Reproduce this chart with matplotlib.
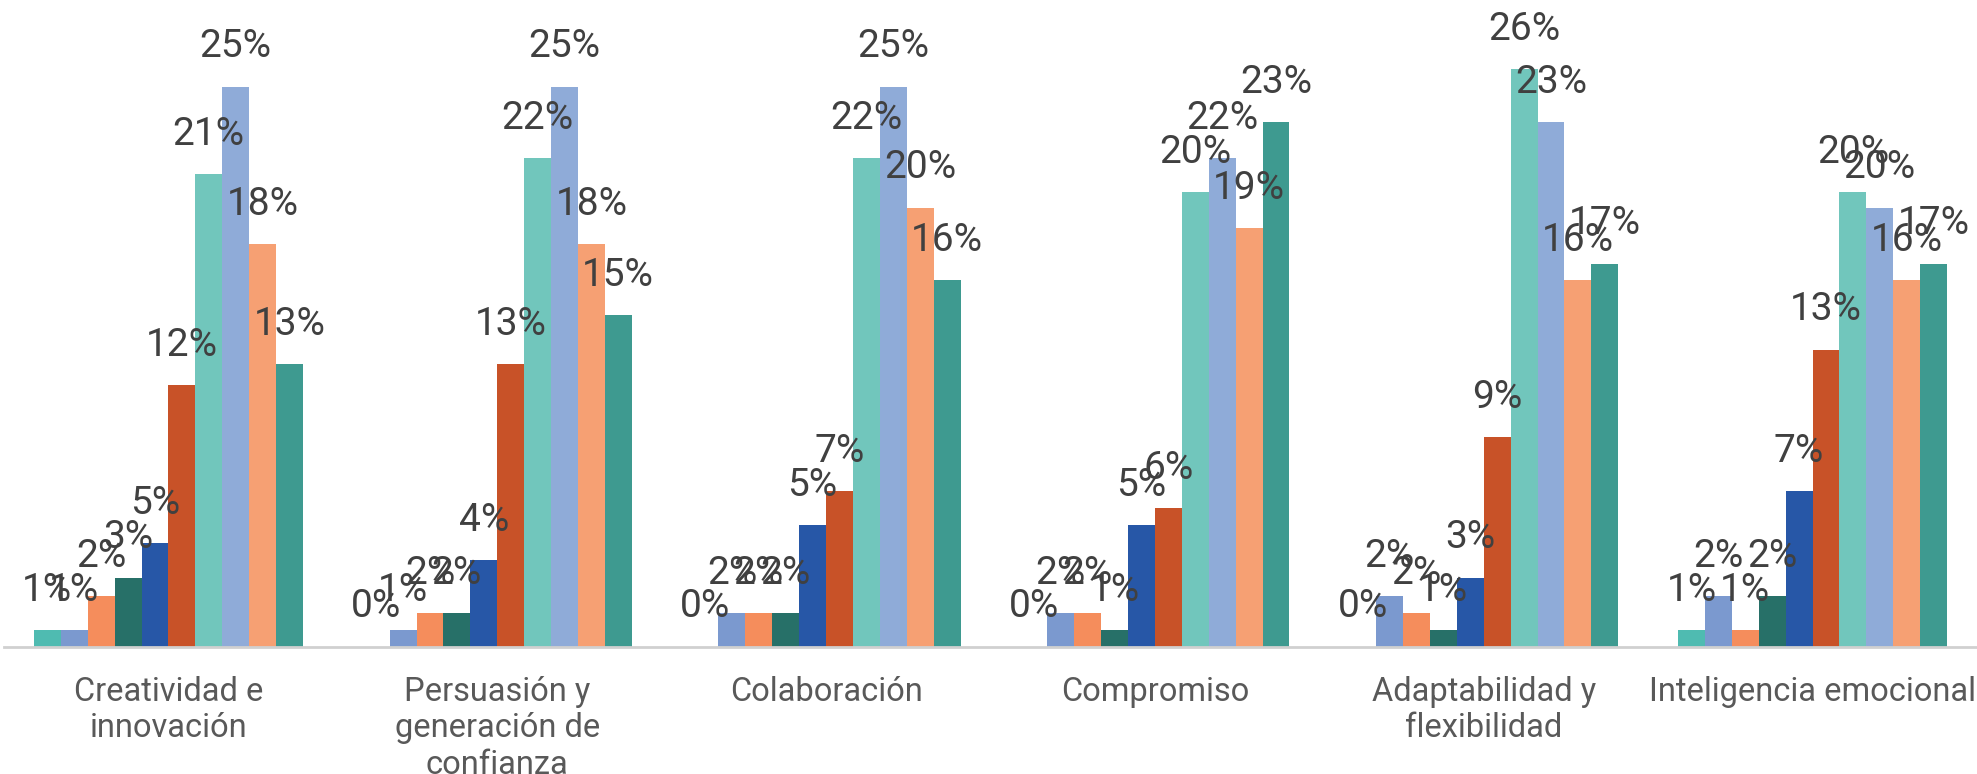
import matplotlib.pyplot as plt
import numpy as np

categories = ["Creatividad e\ninnovación", "Persuasión y\ngeneración de\nconfianza",
              "Colaboración", "Compromiso", "Adaptabilidad y\nflexibilidad",
              "Inteligencia emocional"]

# ten response series, values in percent
s1 = [0.75, 0.0, 0.0, 0.0, 0.0, 0.75]
s2 = [0.75, 0.75, 1.5, 1.5, 2.27, 2.27]
s3 = [2.27, 1.5, 1.5, 1.5, 1.5, 0.75]
s4 = [3.08, 1.5, 1.5, 0.75, 0.75, 2.27]
s5 = [4.63, 3.85, 5.44, 5.44, 3.08, 6.94]
s6 = [11.67, 12.6, 6.94, 6.2, 9.34, 13.26]
s7 = [21.08, 21.8, 21.8, 20.3, 25.77, 20.3]
s8 = [25.0, 25.0, 25.0, 21.8, 23.4, 19.6]
s9 = [17.97, 17.97, 19.6, 18.7, 16.37, 16.37]
s10 = [12.6, 14.8, 16.37, 23.4, 17.1, 17.1]
series = [s1, s2, s3, s4, s5, s6, s7, s8, s9, s10]

colors = ["#4FBBB1", "#7B99CF", "#F58D5C", "#277068", "#2757A7",
          "#C85228", "#71C6BC", "#8FABD8", "#F6A073", "#3E9A90"]


def main():
    plt.rcParams['font.family'] = ['Roboto', 'DejaVu Sans']
    fig = plt.figure(figsize=(19.77, 7.74), dpi=100)
    ax = fig.add_axes([4 / 1977, 127.4 / 774, 1973 / 1977, 646.6 / 774])

    n = len(series)
    group_w = 0.818
    bw = group_w / n
    x = np.arange(len(categories))
    for i, vals in enumerate(series):
        pos = x - group_w / 2 + bw * (i + 0.5)
        ax.bar(pos, vals, width=bw, color=colors[i], edgecolor='none')
        for px, v in zip(pos, vals):
            ax.annotate(f"{v:.0f}%", (px, v), xytext=(0, 21), textcoords='offset points',
                        ha='center', va='baseline', fontsize=28, color='#404040')

    ax.set_xlim(-0.5, len(categories) - 0.5)
    ax.set_ylim(0, 646.6 / 22.4)
    for side in ['left', 'right', 'top']:
        ax.spines[side].set_visible(False)
    ax.spines['bottom'].set_color('#D0D0D0')
    ax.spines['bottom'].set_linewidth(2)
    ax.set_yticks([])
    ax.set_xticks(x)
    ax.set_xticklabels(categories, fontsize=23.5, color='#595959', linespacing=1.18)
    ax.tick_params(axis='x', length=0, pad=21)

    fig.savefig('out.png', dpi=100)
    plt.close(fig)


if __name__ == "__main__":
    main()
